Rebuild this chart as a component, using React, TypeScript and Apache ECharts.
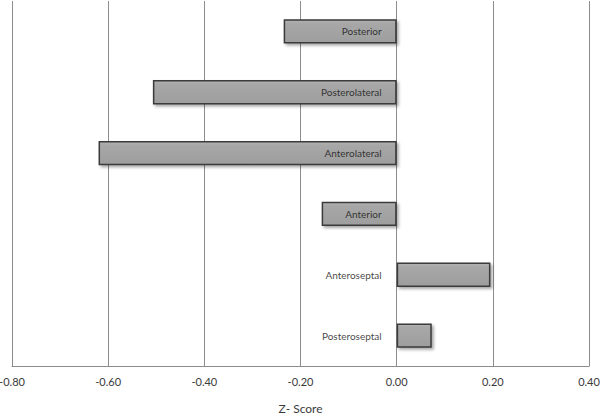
import React, { useEffect, useRef } from "react";
import * as echarts from "echarts";

const categories = ["Posterior", "Posterolateral", "Anterolateral", "Anterior", "Anteroseptal", "Posteroseptal"];
const zScores = [-0.235, -0.507, -0.62, -0.156, 0.195, 0.073];
const xTicks = { min: -0.8, max: 0.4, interval: 0.2 };
const xAxisName = "Z- Score";

export default function App() {
  const ref = useRef<HTMLDivElement>(null);
  useEffect(() => {
    if (!ref.current) return;
    const chart = echarts.init(ref.current, null, { renderer: "svg" });
    const font = "Lato, 'Open Sans', sans-serif";
    chart.setOption({
      animation: false,
      backgroundColor: "#ffffff",
      grid: { left: 12, right: 11, top: 1, bottom: 48, outerBoundsMode: "none", containLabel: false },
      xAxis: {
        type: "value",
        min: xTicks.min,
        max: xTicks.max,
        interval: xTicks.interval,
        name: xAxisName,
        nameLocation: "middle",
        nameGap: 36,
        nameTextStyle: { fontFamily: font, fontSize: 12, color: "#3a3a3a" },
        axisLine: { show: true, lineStyle: { color: "#8c8c8c", width: 1 } },
        axisTick: { show: false },
        axisLabel: {
          formatter: (v: number) => v.toFixed(2),
          fontFamily: font,
          fontSize: 11,
          color: "#3a3a3a",
          margin: 10,
        },
        splitLine: { show: true, lineStyle: { color: "#8c8c8c", width: 1 } },
      },
      yAxis: {
        type: "category",
        data: categories,
        inverse: true,
        axisLine: { show: false },
        axisTick: { show: false },
        axisLabel: { show: false },
        splitLine: { show: false },
      },
      series: [
        {
          type: "bar",
          data: zScores,
          barWidth: "40%",
          z: 2,
          itemStyle: {
            color: new echarts.graphic.LinearGradient(0, 0, 0, 1, [
              { offset: 0, color: "#b4b4b4" },
              { offset: 0.15, color: "#a7a7a7" },
              { offset: 1, color: "#9e9e9e" },
            ]),
            borderColor: "#3a3a3a",
            borderWidth: 1.5,
            shadowColor: "rgba(0,0,0,0.35)",
            shadowBlur: 3,
            shadowOffsetX: 2,
            shadowOffsetY: 2,
          },
        },
        {
          type: "scatter",
          z: 10,
          symbolSize: 0,
          silent: true,
          data: categories.map((c) => [0, c]),
          label: {
            show: true,
            position: "left",
            distance: 15,
            formatter: (p: any) => p.value[1],
            fontFamily: font,
            fontSize: 10,
            color: "#111111",
          },
        },
      ],
    });
    return () => chart.dispose();
  }, []);
  return <div ref={ref} style={{ width: 600, height: 414, position: "absolute", left: 0, top: 0 }} />;
}
